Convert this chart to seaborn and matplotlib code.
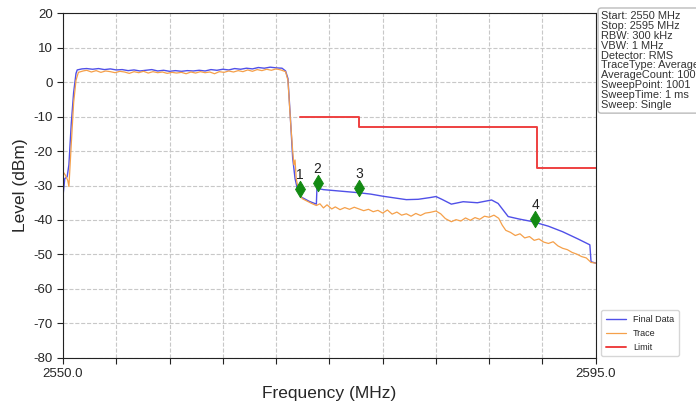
import numpy as np
import pandas as pd
import seaborn as sns
import matplotlib.pyplot as plt

# Final Data (blue)
final_freq = [2550.0, 2550.15, 2550.35, 2550.5, 2550.7, 2550.9, 2551.1,
              2551.2, 2551.6, 2552.0, 2552.5, 2553.0, 2553.5, 2554.0, 2554.5,
              2555.0, 2555.5, 2556.0, 2556.5, 2557.0, 2557.5, 2558.0, 2558.5,
              2559.0, 2559.5, 2560.0, 2560.5, 2561.0, 2561.5, 2562.0, 2562.5,
              2563.0, 2563.5, 2564.0, 2564.5, 2565.0, 2565.5, 2566.0, 2566.5,
              2567.0, 2567.5, 2568.0, 2568.5, 2568.8, 2569.0, 2569.2, 2569.4,
              2569.6, 2569.8, 2570.1, 2570.8, 2571.4, 2571.45, 2572.0, 2573.0,
              2574.0, 2575.0, 2576.0, 2577.0, 2578.0, 2579.0, 2580.0, 2581.0,
              2581.5, 2582.0, 2582.8, 2583.8, 2585.0, 2586.2, 2586.75, 2587.6,
              2588.5, 2589.7, 2591.0, 2592.2, 2593.5, 2594.5, 2594.6, 2595.0]
final_level = [-33.0, -28.0, -27.5, -24.0, -12.0, -3.0, 2.5,
               3.5, 3.8, 3.9, 3.7, 3.9, 3.6, 3.8, 3.5,
               3.6, 3.3, 3.5, 3.2, 3.4, 3.6, 3.2, 3.4,
               3.1, 3.3, 3.1, 3.3, 3.2, 3.4, 3.2, 3.6,
               3.4, 3.7, 3.5, 3.9, 3.7, 4.0, 3.8, 4.2,
               4.0, 4.3, 4.1, 4.0, 3.2, 1.0, -10.0, -22.0,
               -28.0, -31.0, -33.3, -34.6, -35.4, -30.8, -31.2, -31.5,
               -31.8, -32.1, -32.5, -33.1, -33.6, -34.1, -34.0, -33.5,
               -33.2, -34.0, -35.4, -34.7, -35.0, -34.2, -35.2, -39.0,
               -39.7, -40.5, -41.8, -43.4, -45.5, -47.2, -52.1, -52.5]

# Trace (orange)
trace_freq = [2550.0, 2550.2, 2550.4, 2550.5, 2550.7, 2550.9, 2551.1, 2551.3,
              2551.7, 2552.0, 2552.4, 2552.8, 2553.2, 2553.6, 2554.0, 2554.4,
              2554.8, 2555.2, 2555.6, 2556.0, 2556.4, 2556.8, 2557.2, 2557.6,
              2558.0, 2558.4, 2558.8, 2559.2, 2559.6, 2560.0, 2560.4, 2560.8,
              2561.2, 2561.6, 2562.0, 2562.4, 2562.8, 2563.2, 2563.6, 2564.0,
              2564.4, 2564.8, 2565.2, 2565.6, 2566.0, 2566.4, 2566.8, 2567.2,
              2567.6, 2568.0, 2568.4, 2568.8, 2569.0, 2569.2, 2569.4, 2569.5,
              2569.6, 2569.7, 2569.9, 2570.2, 2570.6, 2571.0, 2571.4, 2571.7,
              2572.0, 2572.3, 2572.7, 2573.0, 2573.4, 2573.8, 2574.2, 2574.6,
              2575.0, 2575.4, 2575.8, 2576.2, 2576.6, 2577.0, 2577.4, 2577.8,
              2578.2, 2578.6, 2579.0, 2579.4, 2579.8, 2580.2, 2580.6, 2581.0,
              2581.5, 2581.9, 2582.3, 2582.8, 2583.2, 2583.6, 2584.0, 2584.4,
              2584.8, 2585.2, 2585.6, 2586.0, 2586.4, 2586.8, 2587.1, 2587.4,
              2587.8, 2588.2, 2588.6, 2589.0, 2589.4, 2589.8, 2590.2, 2590.6,
              2591.0, 2591.4, 2591.8, 2592.2, 2592.6, 2593.0, 2593.4, 2593.8,
              2594.2, 2594.6, 2595.0]
trace_level = [-26.0, -27.0, -28.5, -30.3, -18.0, -6.0, 0.5, 2.8,
               3.2, 3.4, 2.9, 3.3, 2.8, 3.2, 3.0, 2.7,
               3.1, 2.9, 2.5, 3.0, 2.7, 3.1, 2.6, 3.0,
               2.7, 2.9, 2.5, 2.8, 2.6, 2.8, 2.4, 2.9,
               2.6, 3.0, 2.7, 2.9, 2.4, 3.0, 2.8, 3.2,
               2.9, 3.3, 3.0, 3.5, 3.1, 3.6, 3.3, 3.7,
               3.4, 3.8, 3.5, 3.0, 0.5, -10.5, -20.0, -24.0,
               -22.6, -28.0, -31.5, -33.8, -34.5, -35.2, -35.8, -35.3,
               -36.5, -35.6, -36.8, -36.2, -37.0, -36.4, -36.9, -36.3,
               -36.8, -37.3, -36.9, -37.6, -37.2, -38.0, -37.1, -38.3,
               -37.7, -38.6, -38.2, -38.9, -38.1, -38.7, -38.0, -37.8,
               -37.4, -38.2, -39.6, -40.5, -39.9, -40.3, -39.4, -40.1,
               -39.3, -39.8, -38.9, -39.2, -38.6, -39.5, -41.5, -43.0,
               -43.6, -44.5, -44.0, -45.2, -44.8, -45.9, -45.5, -46.4,
               -46.8, -46.3, -47.5, -48.2, -48.6, -49.4, -49.9, -50.6,
               -51.0, -52.3, -52.5]

# Limit (red)
limit_freq = [2570.0, 2575.0, 2575.0, 2590.0, 2590.0, 2595.0]
limit_level = [-10.0, -10.0, -13.0, -13.0, -25.0, -25.0]

# markers
marker_ids = ["1", "2", "3", "4"]
marker_freq = [2570.0, 2571.5, 2575.0, 2589.9]
marker_level = [-31.1, -29.4, -30.8, -39.8]

info_lines = ["Start: 2550 MHz", "Stop: 2595 MHz", "RBW: 300 kHz", "VBW: 1 MHz",
              "Detector: RMS", "TraceType: Average", "AverageCount: 100",
              "SweepPoint: 1001", "SweepTime: 1 ms", "Sweep: Single"]

sns.set_style("ticks", {"axes.grid": True, "grid.linestyle": "--",
                        "grid.color": "#c8c8c8", "axes.edgecolor": "#222222"})
plt.rcParams["font.family"] = ["Liberation Sans", "DejaVu Sans"]
plt.rcParams["axes.unicode_minus"] = False

fig = plt.figure(figsize=(6.96, 4.03), dpi=100)
ax = fig.add_axes([0.0905, 0.1117, 0.7655, 0.856])

final_df = pd.DataFrame({"f": final_freq, "lvl": final_level})
trace_df = pd.DataFrame({"f": trace_freq, "lvl": trace_level})
limit_df = pd.DataFrame({"f": limit_freq, "lvl": limit_level})
mk_df = pd.DataFrame({"f": marker_freq, "lvl": marker_level, "id": marker_ids})

sns.lineplot(data=final_df, x="f", y="lvl", ax=ax, color="#5050e8", lw=1.0,
             sort=False, estimator=None, label="Final Data")
sns.lineplot(data=trace_df, x="f", y="lvl", ax=ax, color="#f5a04a", lw=0.9,
             sort=False, estimator=None, label="Trace")
sns.lineplot(data=limit_df, x="f", y="lvl", ax=ax, color="#ee4040", lw=1.4,
             sort=False, estimator=None, label="Limit")
sns.scatterplot(data=mk_df, x="f", y="lvl", ax=ax, marker="d", color="#138a13",
                s=70, edgecolor="#138a13", zorder=5, legend=False)
for _, r in mk_df.iterrows():
    ax.annotate(r["id"], (r["f"], r["lvl"]), xytext=(0, 5), textcoords="offset points",
                ha="center", va="bottom", fontsize=10, color="#222222")

ax.set_xlim(2550, 2595)
ax.set_ylim(-80, 20)
ticks = np.linspace(2550, 2595, 11)
ax.set_xticks(ticks)
ax.set_xticklabels(["2550.0"] + [""] * 9 + ["2595.0"])
ax.set_yticks(range(-80, 21, 10))
ax.tick_params(labelsize=9.5, length=4, color="#222222")
ax.set_xlabel("Frequency (MHz)", fontsize=12.5)
ax.set_ylabel("Level (dBm)", fontsize=12.5)

leg = ax.legend(loc="lower left", bbox_to_anchor=(1.002, -0.008), fontsize=6.5,
                frameon=True, handlelength=2.2, borderpad=0.5, labelspacing=0.55)
leg.get_frame().set_edgecolor("#cccccc")

# the reference box runs past the right edge of the image
fig.text(0.864, 0.972, "\n".join(info_lines), fontsize=7.9, va="top", ha="left",
         linespacing=0.98, color="#333333",
         bbox=dict(boxstyle="round,pad=0.3", fc="white", ec="#bbbbbb"))

fig.savefig("out.png", dpi=100)
